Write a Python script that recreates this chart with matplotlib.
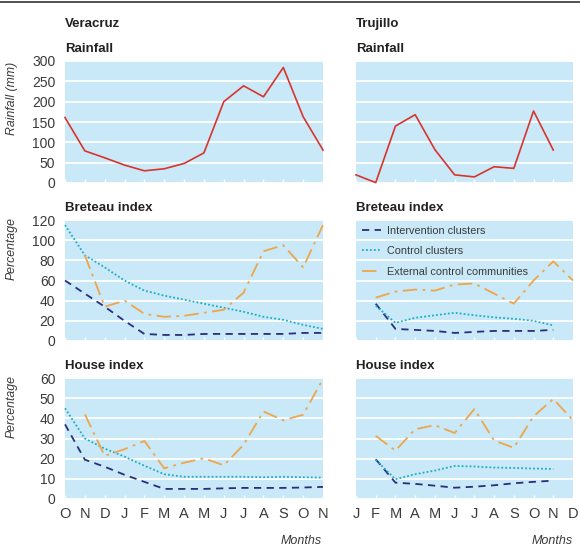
import numpy as np
import matplotlib.pyplot as plt
from matplotlib.lines import Line2D

# months on each panel
ver_months = ['O', 'N', 'D', 'J', 'F', 'M', 'A', 'M', 'J', 'J', 'A', 'S', 'O', 'N']
tru_months = ['J', 'F', 'M', 'A', 'M', 'J', 'J', 'A', 'S', 'O', 'N', 'D']

# rainfall (mm)
ver_rain = [161, 79, 62, 44, 30, 35, 48, 74, 200, 239, 212, 284, 163, 81]
tru_rain = [20, 1, 140, 168, 82, 20, 15, 40, 36, 177, 81]

# Breteau index, Veracruz (O..N)
ver_bi_int = [60, 47, 34, 20, 7, 6, 6, 7, 7, 7, 7, 7, 8, 8]
ver_bi_ctl = [115, 85, 73, 60, 50, 45, 41, 37, 33, 29, 24, 21, 16, 12]
ver_bi_ext = [np.nan, 85, 34, 40, 27, 24, 25, 28, 31, 48, 89, 95, 73, 115]

# Breteau index, Trujillo (J..D)
tru_bi_int = [np.nan, 37, 12, 11, 10, 8, 9, 10, 10, 10, 11]
tru_bi_ctl = [np.nan, 35, 18, 23, 25.5, 28, 25.5, 23.5, 22, 20, 15.5]
tru_bi_ext = [np.nan, 43, 49, 51, 50, 56, 57, 47, 37, 60, 79, 60]

# House index, Veracruz
ver_hi_int = [37, 19.5, 16, 12, 8.5, 5, 5, 5, 5.3, 5.5, 5.5, 5.5, 5.7, 6]
ver_hi_ctl = [45, 30, 25, 21, 16.5, 12.3, 11, 11, 11, 11, 10.8, 11, 10.8, 10.6]
ver_hi_ext = [np.nan, 42, 21.4, 24.7, 28.8, 15.2, 18, 20.2, 16.7, 26.9, 43.4, 39, 41.8, 59.5]

# House index, Trujillo
tru_hi_int = [np.nan, 19.7, 8.1, 7.5, 6.6, 5.6, 6.1, 6.8, 7.8, 8.5, 9.1]
tru_hi_ctl = [np.nan, 19.4, 9.8, 12.3, 14.1, 16.4, 16.1, 15.6, 15.4, 15.1, 14.9]
tru_hi_ext = [np.nan, 31.3, 24, 34.6, 36.6, 32.7, 44.6, 29, 25.4, 41, 49.6, 39]

series_labels = ['Intervention clusters', 'Control clusters', 'External control communities']

BG = '#c9e8f8'
RED = '#d9342b'
C_INT = '#2b2e7a'
C_CTL = '#1aaec4'
C_EXT = '#eda64a'
TXT = '#3a3a3a'

plt.rcParams['font.family'] = ['Liberation Sans', 'DejaVu Sans']

W, H = 580, 550
fig = plt.figure(figsize=(W / 100, H / 100), dpi=100)


def px_axes(x0, x1, y0, y1):
    return fig.add_axes([x0 / W, 1 - y1 / H, (x1 - x0) / W, (y1 - y0) / H])


def style(ax, n, ymax, step, left, bottom, months):
    ax.set_facecolor(BG)
    ax.set_xlim(0, n - 1)
    ax.set_ylim(0, ymax)
    ax.set_yticks(np.arange(0, ymax + 1, step))
    ax.set_xticks(np.arange(n))
    for s in ax.spines.values():
        s.set_visible(False)
    ax.grid(axis='y', color='white', lw=1.3)
    ax.set_axisbelow(True)
    ax.tick_params(axis='x', direction='in', color='white', length=3, width=1,
                   labelsize=10.5, labelcolor=TXT, pad=6)
    ax.tick_params(axis='y', length=0, labelsize=10, labelcolor=TXT, pad=7)
    if not left:
        ax.set_yticklabels([])
    if bottom:
        ax.set_xticklabels(months)
    else:
        ax.set_xticklabels([])


LX = (65, 323)
RX = (356, 573)
rows = [(61, 183), (220, 341), (378, 499)]

ax_vr = px_axes(*LX, *rows[0])
ax_tr = px_axes(*RX, *rows[0])
ax_vb = px_axes(*LX, *rows[1])
ax_tb = px_axes(*RX, *rows[1])
ax_vh = px_axes(*LX, *rows[2])
ax_th = px_axes(*RX, *rows[2])

style(ax_vr, 14, 300, 50, True, False, ver_months)
style(ax_tr, 12, 300, 50, False, False, tru_months)
style(ax_vb, 14, 120, 20, True, False, ver_months)
style(ax_tb, 12, 120, 20, False, False, tru_months)
style(ax_vh, 14, 60, 10, True, True, ver_months)
style(ax_th, 12, 60, 10, False, True, tru_months)

ax_vr.plot(np.arange(len(ver_rain)), ver_rain, color=RED, lw=1.2, clip_on=False)
ax_tr.plot(np.arange(len(tru_rain)), tru_rain, color=RED, lw=1.2, clip_on=False)

ls_int = dict(color=C_INT, lw=1.3, ls=(0, (4, 3)))
ls_ctl = dict(color=C_CTL, lw=1.3, ls=(0, (1, 1.2)))
ls_ext = dict(color=C_EXT, lw=1.3, ls=(0, (8, 3, 1.5, 3)))


def draw(ax, a, b, c):
    ax.plot(np.arange(len(a)), a, clip_on=False, label=series_labels[0], **ls_int)
    ax.plot(np.arange(len(b)), b, clip_on=False, label=series_labels[1], **ls_ctl)
    ax.plot(np.arange(len(c)), c, clip_on=False, label=series_labels[2], **ls_ext)


draw(ax_vb, ver_bi_int, ver_bi_ctl, ver_bi_ext)
draw(ax_tb, tru_bi_int, tru_bi_ctl, tru_bi_ext)
draw(ax_vh, ver_hi_int, ver_hi_ctl, ver_hi_ext)
draw(ax_th, tru_hi_int, tru_hi_ctl, tru_hi_ext)

leg = ax_tb.legend(loc='upper left', bbox_to_anchor=(0.0, 1.0), frameon=False,
                   fontsize=7.8, handlelength=1.8, handletextpad=0.5,
                   labelspacing=0.95, borderaxespad=0.3, borderpad=0.25)
for t in leg.get_texts():
    t.set_color(TXT)

# titles
def ftext(x, y, s, **kw):
    fig.text(x / W, 1 - y / H, s, **kw)


TKW = dict(fontsize=9.5, fontweight='bold', va='center', color='#222222')
ftext(65, 24, 'Veracruz', **TKW)
ftext(356, 24, 'Trujillo', **TKW)
for x in (65, 356):
    ftext(x, 49, 'Rainfall', **TKW)
    ftext(x, 208, 'Breteau index', **TKW)
    ftext(x, 366, 'House index', **TKW)

YKW = dict(fontsize=8.8, style='italic', rotation=90, ha='center', va='top', color=TXT)
ftext(12, 62, 'Rainfall (mm)', **YKW)
ftext(12, 217, 'Percentage', **YKW)
ftext(12, 375, 'Percentage', **YKW)
ftext(322, 541, 'Months', fontsize=9, style='italic', ha='right', va='center', color=TXT)
ftext(573, 541, 'Months', fontsize=9, style='italic', ha='right', va='center', color=TXT)

fig.add_artist(Line2D([0, 1], [1 - 1.5 / H, 1 - 1.5 / H], color='#333333', lw=1.2))

fig.savefig('out.png', dpi=100)
